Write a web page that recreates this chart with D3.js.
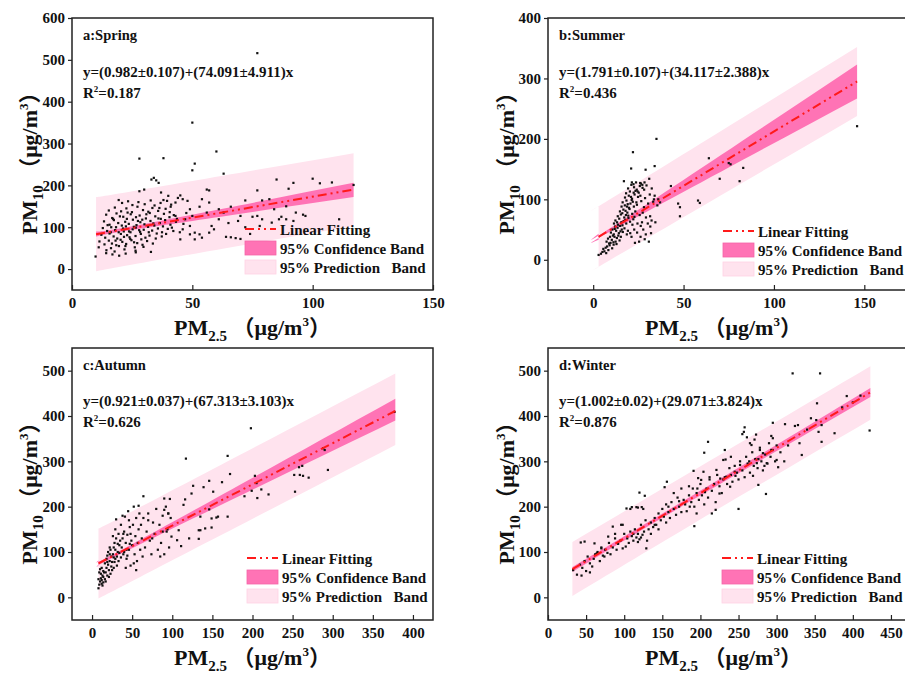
<!DOCTYPE html>
<html>
<head>
<meta charset="utf-8">
<script src="https://cdn.jsdelivr.net/npm/d3@7"></script>
<style>
  body { margin: 0; background: #fff; }
  svg {
    display: block;
    font-family: "Times New Roman", "Liberation Serif", "Noto Sans CJK SC", serif;
    font-weight: bold;
  }
</style>
</head>
<body>
<div id="chart"></div>
<script>
// ---- data (PM2.5, PM10) ----
const springPoints = [
  [77,516],[50,350],[60,281],[28,264],[38,265],[51,252],[50,236],[63,228],[85,214],[100,216],[92,206],[103,205],[108,207],[117,201],
  [34,218],[35,212],[33,214],[36,206],[90,192],[77,188],[57,188],[28,186],[30,190],[44,170],[45,176],
  [79,164],[82,167],[72,164],[66,149],[70,127],[75,125],[79,119],[87,125],[89,119],[97,127],[92,115],[83,111],[78,103],[69,115],
  [64,77],[68,74],[59,95],[61,119],[63,135],[61,143],[56,135],[57,159],[54,167],[53,149],[56,190],[49,143],[50,127],[49,103],
  [49,83],[51,87],[53,83],[51,71],[54,75],[57,87],[58,103],[46,95],[45,71],[47,119],[43,127],[41,149],[43,159],[46,167],[48,163],
  [40,175],[38,165],[37,183],[77,127],[84,143],[86,119],[74,84],[70,72],[66,76],[93,135],[96,130],[111,119],[89,150],[72,100],[65,110],
  [19.4,165],[20.8,158],[23.3,162],[25.1,153],[27.6,160],[30.2,155],[32.7,164],[34.3,152],[36.8,158],[39.5,163],[41.2,154],
  [15.3,140],[17.8,147],[20.4,138],[22.6,145],[24.9,136],[27.2,149],[29.5,141],[31.7,137],[33.4,146],[35.8,139],[38.9,144],[40.6,136],
  [14.2,130],[16.7,122],[18.5,133],[21.3,125],[22.8,120],[24.4,131],[26.6,124],[28.1,128],[30.7,121],[32.3,134],[34.6,126],[36.9,120],[38.2,132],[40.5,124],[42.3,129],
  [13.3,114],[15.6,106],[17.4,117],[19.2,110],[20.7,104],[22.1,113],[23.6,108],[25.3,118],[26.8,105],[28.4,112],[30.1,107],[32.6,115],[34.2,104],[36.5,110],[38.7,117],[40.9,106],[43.2,113],
  [12.8,98],[14.6,91],[16.3,100],[17.9,93],[19.4,88],[21.2,97],[22.4,102],[23.7,90],[25.2,95],[26.5,99],[28.3,89],[29.8,94],[31.6,101],[33.3,92],[35.7,97],[37.4,88],[39.8,96],[42.1,91],
  [12.2,82],[13.8,75],[15.6,85],[17.3,78],[18.8,73],[20.3,84],[21.6,77],[22.9,81],[24.2,72],[26.4,79],[28.6,84],[30.5,75],[32.2,80],[34.8,73],[37.3,78],
  [11.4,66],[13.5,59],[15.3,68],[16.6,61],[18.4,57],[20.9,65],[22.5,60],[24.7,69],[27.1,62],[29.3,58],[31.2,67],[33.6,61],
  [11.1,52],[14.3,45],[16.2,50],[17.7,42],[19.5,55],[21.8,47],[26.4,44],[29.7,53],[32.8,41],
  [9.8,30],[14.2,38],[16.8,35],[19.6,32],[22.3,37],[26.5,40],[18.3,100],[24.3,88],[27.4,115],[35.2,85],[20.2,70],
  [17.1,120],[19.9,126],[23.1,135],[25.7,101],[27.9,93],[29.2,118],[31.9,88],[33.8,109],[21.5,90],[23.9,76],[25.8,64],[18.1,68],
  [16.1,88],[14.8,105],[35.9,121],[37.8,102],[39.1,84],[41.5,99],[43.6,120],[44.8,88],[46.3,108],[47.5,134],[36.3,146],[30.9,131],
  [28.8,71],[26.1,52],[22.2,55]
];

const summerPoints = [
  [35,200],[22,178],[21,151],[29,149],[34,155],[17,130],[21.4,128],[22.3,125],[26,127],[27.2,124],[28.4,128],[31,134],[64,168],[75,160],
  [76,158],[81,130],[70,134],[43,122],[47,93],[48,87],[58,98],[59,94],[48,72],[32,44],[146,221],[83,152],[3,8],[37,95],[36,100],[34,106],
  [4.3,10],[5.6,18],[6.2,14],[7.7,22],[8.4,16],[9.1,24],[6.9,20],[10.5,19],[8.8,27],[11.3,25],[5.1,13],[7.2,11],
  [7.4,30],[8.2,35],[9.6,28],[10.3,33],[11.8,38],[12.4,30],[13.1,36],[10.9,40],[14.6,32],[12.9,26],[15.3,38],[9.3,38],[11.2,29],
  [9.8,45],[10.6,50],[11.4,42],[12.7,48],[13.5,53],[14.2,44],[15.8,50],[16.4,46],[12.1,55],[17.3,52],[18.6,42],[13.9,40],[19.2,48],[20.5,44],[15.1,47],[11.9,51],
  [11.5,60],[12.3,65],[13.7,58],[14.4,68],[15.6,62],[16.2,57],[17.8,66],[18.3,60],[19.5,69],[14.9,56],[20.4,63],[21.7,58],[22.2,67],[24.5,60],[26.3,56],[16.9,64],[13.2,62],
  [13.6,72],[14.8,80],[15.3,75],[16.7,83],[17.2,70],[18.9,78],[19.4,73],[20.1,84],[21.6,76],[22.8,71],[23.3,80],[25.7,74],[27.4,78],[29.2,70],[31.5,72],[17.9,81],[16.1,77],[18.1,74],
  [15.7,88],[16.3,95],[17.5,90],[18.4,98],[19.8,86],[20.6,93],[21.3,99],[22.5,88],[23.9,95],[24.2,91],[26.6,97],[28.1,87],[30.4,93],[33.2,96],[35.5,90],[19.1,92],[21.9,96],[18.7,88],
  [17.6,103],[18.2,110],[19.7,106],[20.3,113],[21.5,101],[22.9,108],[23.4,114],[24.8,104],[25.2,111],[26.1,106],[28.7,102],[31.3,108],[33.6,100],[20.9,104],[22.4,111],
  [19.3,118],[21.1,124],[22.6,120],[23.7,128],[24.1,116],[25.8,122],[26.4,126],[27.3,119],[29.5,123],[28.2,116],[32.4,118],[24.6,113],
  [24.3,45],[26.2,38],[27.7,50],[28.5,34],[30.2,60],[29.1,42],[31.6,55],[32.3,65],[30.8,30],[25.4,30],[23.1,28],[34.4,62],[27,62],[22.7,50],[21.2,38]
];

const autumnPoints = [
  [198,373],[117,306],[169,312],[172,272],[203,268],[162,254],[146,257],[139,243],[126,246],[124,229],[116,216],[114,204],[146,194],
  [149,174],[155,176],[169,178],[135,178],[135,148],[141,152],[121,130],[133,129],[211,238],[206,219],[190,223],[220,227],[253,233],
  [262,290],[259,270],[252,270],[106,126],[111,113],[99,134],[93,145],[108,148],[90,218],[97,217],[90,193],[95,185],[64,223],[377,409],
  [294,281],[270,264],[263,268],[258,287],[288,329],[290,325],[199,235],[205,252],[151,233],[157,178],[149,154],[133,148],
  [8,20],[9,28],[10,35],[11,42],[12,30],[13,48],[9,55],[10,62],[12,38],[14,45],[11,52],[8,40],[13,26],[15,55],[12,65],[14,33],
  [16,40],[17,55],[18,65],[19,48],[20,72],[21,60],[22,80],[23,52],[24,90],[18,85],[20,100],[22,110],[24,68],[16,75],[19,92],[21,45],[23,105],[25,78],
  [26,95],[27,110],[28,120],[29,85],[30,130],[31,70],[32,100],[33,140],[34,115],[27,65],[29,150],[30,172],[31,90],[33,80],[35,125],[26,135],[28,78],[34,98],
  [36,160],[37,110],[38,130],[39,95],[40,145],[41,178],[42,120],[43,85],[44,138],[45,190],[46,105],[47,155],[48,70],[49,125],[38,180],[40,100],[42,65],[44,92],[46,170],[48,140],
  [50,115],[51,160],[52,200],[53,95],[54,135],[55,175],[56,80],[57,120],[58,150],[59,185],[60,105],[61,160],[62,130],[63,90],[64,175],[55,60],[58,202],[52,75],
  [66,110],[68,145],[70,185],[72,125],[74,95],[76,165],[78,140],[80,195],[82,105],[84,160],[86,120],[88,180],[90,95],[92,200],[94,150],[96,110],[98,175],
  [85,90],[75,130],[70,170],[88,145],[95,185],[14,58],[17,35],[19,78],[22,95],[25,60],[27,88],[29,105],[32,118],[36,88],[39,140],[43,105],[47,118]
];

const winterPoints = [
  [321,494],[357,494],[392,444],[422,368],[353,428],[376,362],[359,343],[355,365],[359,380],[352,391],[386,419],[295,385],[311,382],
  [324,378],[328,380],[333,314],[286,228],[250,195],[258,375],[257,365],[261,353],[273,359],[271,348],[267,336],[293,356],[295,351],
  [232,325],[240,310],[278,325],[282,318],[293,325],[300,303],[302,287],[287,296],[274,296],[269,268],[276,248],[252,292],[245,277],
  [234,266],[239,244],[225,229],[210,343],[205,319],[191,279],[204,277],[197,263],[201,259],[212,265],[230,303],[233,304],[221,281],
  [156,255],[153,243],[120,231],[127,224],[103,196],[110,199],[116,199],[123,199],[129,108],[192,157],[220,193],[43,121],[48,123],
  [33,60],[44,48],[55,55],[85,156],[96,160],[79,134],[70,108],[74,90],[61,119],[64,97],[400,430],[410,445],[340,370],[345,395],
  [330,340],[315,335],[310,300],[305,320],
  [38,50],[42,72],[45,65],[48,80],[50,58],[52,90],[55,75],[58,68],[60,85],[62,95],[65,100],[68,80],[70,110],[72,92],[75,105],[78,98],[80,120],
  [82,95],[85,110],[88,130],[90,105],[92,118],[95,125],[98,108],[100,140],[102,112],[104,130],[106,120],[108,145],[110,135],[112,125],
  [114,150],[116,132],[118,140],[120,128],[122,160],[124,138],[126,145],[128,170],[130,125],[125,195],[118,198],[108,195],[98,160],[88,140],
  [132,150],[135,165],[138,155],[140,175],[142,160],[145,185],[148,170],[150,195],[152,178],[155,205],[158,188],[160,175],[162,210],
  [165,195],[168,182],[170,220],[172,200],[175,188],[178,215],[180,205],[145,150],[155,165],[165,230],[175,240],[135,140],
  [182,190],[185,225],[188,210],[190,240],[192,200],[195,230],[198,215],[200,250],[202,225],[205,205],[208,240],[210,220],[212,260],
  [215,235],[218,250],[220,210],[222,270],[225,245],[228,230],[230,260],[185,245],[195,185],[215,185],
  [232,265],[235,250],[238,285],[240,270],[242,255],[245,290],[248,275],[250,260],[252,300],[255,280],[258,265],[260,310],[262,295],
  [265,275],[268,320],[270,290],[272,305],[275,285],[278,330],[280,300],[282,280],[285,315],[288,295],[290,340],[292,310],[295,325],
  [298,300],[300,335],[255,360],[265,340],[112,140],[118,122],[122,132],[140,160],[158,200],[172,212],[186,200],[196,240],[206,232],
  [226,262],[246,268],[264,300],[276,305],[284,290]
];

// fitted line and bands: [x, fit, ciLow, ciHigh, piLow, piHigh]
const springBand = [[10, 83, 77, 90, -5, 172], [30, 103, 98, 108, 16, 191], [117, 190, 172, 206, 103, 277]];
const summerBand = [[3, 38, 33, 43, -12, 89], [17, 63, 59, 67, 13, 114], [146, 295, 267, 323, 238, 352]];
const autumnBand = [[8, 75, 69, 81, -2, 152], [60, 122, 117, 127, 45, 199], [378, 411, 390, 438, 336, 494]];
const winterBand = [[32, 62, 56, 67, 3, 122], [190, 220, 215, 225, 162, 279], [423, 452, 442, 462, 392, 510]];

const panelLabels = ["a:Spring", "b:Summer", "c:Autumn", "d:Winter"];
const equations = [
  "y=(0.982±0.107)+(74.091±4.911)x",
  "y=(1.791±0.107)+(34.117±2.388)x",
  "y=(0.921±0.037)+(67.313±3.103)x",
  "y=(1.002±0.02)+(29.071±3.824)x"
];
const r2Values = ["0.187", "0.436", "0.626", "0.876"];
const legendLabels = ["Linear Fitting", "95% Confidence Band", "95% Prediction   Band"];

const xTickValues = [[0, 50, 100, 150], [0, 50, 100, 150], d3.range(0, 401, 50), d3.range(0, 451, 50)];
const yTickValues = [d3.range(0, 601, 100), d3.range(0, 401, 100), d3.range(0, 501, 100), d3.range(0, 501, 100)];

// ---- layout ----
const width = 905;
const height = 673;
const ciColor = "#ff73b5";
const piColor = "#ffe3ee";
const lineColor = "#ff1a1a";

const panels = [
  { left: 72, right: 433, top: 18, bottom: 290, xDomain: [0, 150], yDomain: [-50, 600], points: springPoints, band: springBand,
    textY: [40, 77, 98], legendX: 245, legendY: 229, yTitleX: 37 },
  { left: 548, right: 909.5, top: 18, bottom: 290, xDomain: [-25, 175], yDomain: [-50, 400], points: summerPoints, band: summerBand,
    textY: [40, 77, 98], legendX: 723, legendY: 231, yTitleX: 514 },
  { left: 72, right: 433, top: 348, bottom: 620, xDomain: [-25, 425], yDomain: [-50, 550], points: autumnPoints, band: autumnBand,
    textY: [370, 406, 427], legendX: 247, legendY: 558, yTitleX: 37 },
  { left: 548, right: 910, top: 348, bottom: 620, xDomain: [0, 475], yDomain: [-50, 550], points: winterPoints, band: winterBand,
    textY: [370, 406, 427], legendX: 722, legendY: 558, yTitleX: 514 }
];

const svg = d3
  .select("#chart")
  .append("svg")
  .attr("width", width)
  .attr("height", height);

// "PM2.5 （μg/m3）" style title with sub/superscripts
const addUnitTitle = (text, sub) => {
  text.append("tspan").text("PM");
  text.append("tspan").attr("dy", 6).style("font-size", "15px").text(sub);
  text.append("tspan").attr("dy", -6).text(" （μg/m");
  text.append("tspan").attr("dy", -9).style("font-size", "13px").text("3");
  text.append("tspan").attr("dy", 9).text("）");
};

panels.forEach((p, i) => {
  const g = svg.append("g");

  const x = d3.scaleLinear().domain(p.xDomain).range([p.left, p.right]);
  const y = d3.scaleLinear().domain(p.yDomain).range([p.bottom, p.top]);

  // prediction band, confidence band
  const area = (lo, hi) =>
    d3.area()
      .x((d) => x(d[0]))
      .y0((d) => y(d[lo]))
      .y1((d) => y(d[hi]))
      .curve(d3.curveNatural);

  g.append("path").datum(p.band).attr("fill", piColor).attr("d", area(4, 5));
  g.append("path").datum(p.band).attr("fill", ciColor).attr("d", area(2, 3));

  // scatter
  g.selectAll(".pt")
    .data(p.points)
    .enter()
    .append("rect")
    .attr("class", "pt")
    .attr("x", (d) => x(d[0]) - 1.1)
    .attr("y", (d) => y(d[1]) - 1.1)
    .attr("width", 2.2)
    .attr("height", 2.2)
    .attr("fill", "#111");

  // fitted line
  g.append("path")
    .datum(p.band)
    .attr("fill", "none")
    .attr("stroke", lineColor)
    .attr("stroke-width", 2)
    .attr("stroke-dasharray", "9,4,2,4,2,4")
    .attr("d", d3.line().x((d) => x(d[0])).y((d) => y(d[1])));

  // frame
  g.append("rect")
    .attr("x", p.left)
    .attr("y", p.top)
    .attr("width", p.right - p.left)
    .attr("height", p.bottom - p.top)
    .attr("fill", "none")
    .attr("stroke", "#222")
    .attr("stroke-width", 1.5);

  // axes: x ticks point inward, y ticks outward
  const xAxis = g.append("g")
    .attr("transform", `translate(0,${p.bottom})`)
    .call(d3.axisBottom(x).tickValues(xTickValues[i]).tickSizeInner(-5).tickSizeOuter(0).tickPadding(7));
  const yAxis = g.append("g")
    .attr("transform", `translate(${p.left},0)`)
    .call(d3.axisLeft(y).tickValues(yTickValues[i]).tickSizeInner(4).tickSizeOuter(0).tickPadding(3));

  [xAxis, yAxis].forEach((a) => {
    a.select(".domain").remove();
    a.selectAll("line").attr("stroke", "#222").attr("stroke-width", 1.2);
    a.selectAll("text")
      .attr("fill", "#111")
      .style("font-family", "'Times New Roman', 'Liberation Serif', serif")
      .style("font-weight", "bold")
      .style("font-size", "15px");
  });

  // axis titles
  const xt = g.append("text")
    .attr("x", (p.left + Math.min(p.right, 905)) / 2 + (i % 2 ? -3 : 0))
    .attr("y", p.bottom + 45)
    .attr("text-anchor", "middle")
    .attr("fill", "#111")
    .style("font-size", "22px");
  addUnitTitle(xt, "2.5");

  const yt = g.append("text")
    .attr("transform", `translate(${p.yTitleX},${(p.top + p.bottom) / 2 + 4}) rotate(-90)`)
    .attr("text-anchor", "middle")
    .attr("fill", "#111")
    .style("font-size", "22px");
  addUnitTitle(yt, "10");

  // panel label, equation, R²
  const tx = p.left + 11;
  g.append("text").attr("x", tx).attr("y", p.textY[0]).style("font-size", "14.5px").attr("fill", "#111").text(panelLabels[i]);
  g.append("text").attr("x", tx).attr("y", p.textY[1]).style("font-size", "15px").attr("fill", "#111").text(equations[i]);
  const r2 = g.append("text").attr("x", tx).attr("y", p.textY[2]).style("font-size", "15px").attr("fill", "#111");
  r2.append("tspan").text("R");
  r2.append("tspan").attr("dy", -6).style("font-size", "9px").text("2");
  r2.append("tspan").attr("dy", 6).text("=" + r2Values[i]);

  // legend
  const lg = g.append("g").attr("transform", `translate(${p.legendX},${p.legendY})`);
  lg.append("line")
    .attr("x1", 0).attr("x2", 31).attr("y1", 0).attr("y2", 0)
    .attr("stroke", lineColor).attr("stroke-width", 2)
    .attr("stroke-dasharray", "9,4,2,4,2,4");
  lg.append("rect").attr("x", 0).attr("y", 12).attr("width", 31).attr("height", 14)
    .attr("fill", ciColor).attr("stroke", "#f564a8").attr("stroke-width", 0.8);
  lg.append("rect").attr("x", 0).attr("y", 31).attr("width", 31).attr("height", 14)
    .attr("fill", piColor).attr("stroke", "#ffd3e4").attr("stroke-width", 0.8);
  lg.selectAll(".lt")
    .data(legendLabels)
    .enter()
    .append("text")
    .attr("class", "lt")
    .attr("x", 35)
    .attr("y", (d, k) => 6 + k * 19)
    .attr("fill", "#111")
    .style("font-size", "15px")
    .style("white-space", "pre")
    .text((d) => d);
});
</script>
</body>
</html>
